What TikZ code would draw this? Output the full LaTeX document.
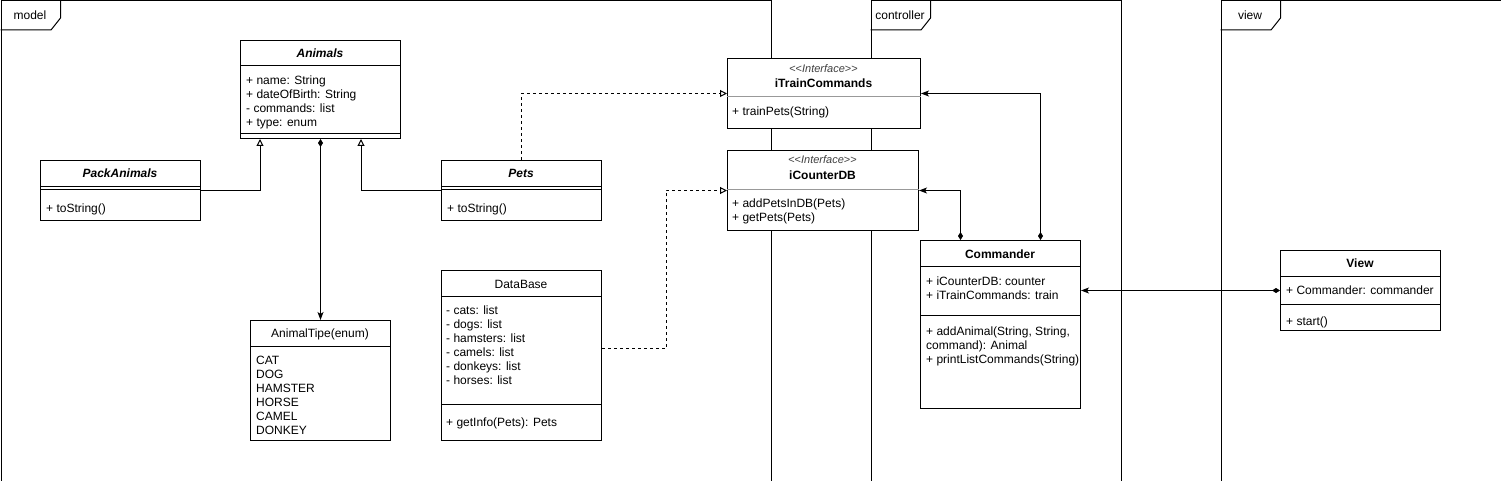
\documentclass[tikz,border=0pt]{standalone}
\usepackage{fontspec}
\setmainfont{Liberation Sans}
\usetikzlibrary{arrows.meta}

\newcommand{\uml}{\fontsize{12pt}{14pt}\selectfont}
\newcommand{\stereo}{<\kern0pt<\textit{Interface}>\kern0pt>}

\tikzset{
  frame/.style={draw, line width=1pt, inner sep=0pt, anchor=north west},
  cls/.style={draw, fill=white, line width=1pt, inner sep=0pt, anchor=north west},
  title/.style={inner sep=0pt, font=\uml\bfseries},
  abstitle/.style={inner sep=0pt, font=\uml\bfseries\itshape},
  plain/.style={inner sep=0pt, font=\uml},
  iftag/.style={inner sep=0pt, text=black!75, font=\fontsize{11pt}{13pt}\selectfont},
  members/.style={inner sep=0pt, anchor=west, align=left, font=\uml},
  sep/.style={line width=1pt},
  isep/.style={line width=1pt, draw=black!40},
  gen/.style={line width=1pt, -{Triangle[open,length=7pt,width=7pt]}},
  real/.style={gen, dash pattern=on 3pt off 3pt},
  comp/.style={line width=1pt, {Diamond[length=8pt,width=5pt]}-{Stealth[length=8pt,width=6pt,inset=2pt]}},
}

\begin{document}
\begin{tikzpicture}[x=1pt, y=-1pt, font=\uml]
  \useasboundingbox (0,0) rectangle (1501,481);

  % packages
  \node[frame, minimum width=770pt, minimum height=480pt] (model) at (0.5,0.5) {};
  \draw[line width=1pt] (0.5,30) -- (51,30) -- (60.5,18) -- (60.5,0.5);
  \node[plain] (model-l) at (30,15) {model};

  \node[frame, minimum width=250pt, minimum height=480pt] (controller) at (870.5,0.5) {};
  \draw[line width=1pt] (870.5,30) -- (921,30) -- (930.5,18) -- (930.5,0.5);
  \node[plain] (controller-l) at (900,15) {controller};

  \node[frame, minimum width=280pt, minimum height=480pt] (view) at (1220.5,0.5) {};
  \draw[line width=1pt] (1220.5,30) -- (1271,30) -- (1280.5,18) -- (1280.5,0.5);
  \node[plain] (view-l) at (1250,15) {view};

  % model
  \node[cls, minimum width=160pt, minimum height=98pt] (animals) at (240,40) {};
  \node[abstitle] (animals-t) at (320,53) {Animals};
  \draw[sep] (animals.west |- 0,66) -- (animals.east |- 0,66);
  \node[members] (animals-a) at (246,102) {+ name: String\\+ dateOfBirth: String\\- commands: list\\+ type: enum};
  \draw[sep] (animals.west |- 0,134) -- (animals.east |- 0,134);

  \node[cls, minimum width=160pt, minimum height=60pt] (pack) at (40,160) {};
  \node[abstitle] (pack-t) at (120,173.5) {PackAnimals};
  \draw[sep] (pack.west |- 0,186.5) -- (pack.east |- 0,186.5);
  \draw[sep] (pack.west |- 0,190) -- (pack.east |- 0,190);
  \node[members] (pack-o) at (46,209) {+ toString()};

  \node[cls, minimum width=160pt, minimum height=60pt] (pets) at (441,160) {};
  \node[abstitle] (pets-t) at (521,173.5) {Pets};
  \draw[sep] (pets.west |- 0,186.5) -- (pets.east |- 0,186.5);
  \draw[sep] (pets.west |- 0,190) -- (pets.east |- 0,190);
  \node[members] (pets-o) at (447,209) {+ toString()};

  \node[cls, minimum width=140pt, minimum height=120pt] (tipe) at (250,320) {};
  \node[plain] (tipe-t) at (320,334.5) {AnimalTipe(enum)};
  \draw[sep] (tipe.west |- 0,346) -- (tipe.east |- 0,346);
  \node[members] (tipe-a) at (256,395) {CAT\\DOG\\HAMSTER\\HORSE\\CAMEL\\DONKEY};

  \node[cls, minimum width=160pt, minimum height=170pt] (database) at (441,270) {};
  \node[plain] (database-t) at (521,284) {DataBase};
  \draw[sep] (database.west |- 0,296) -- (database.east |- 0,296);
  \node[members] (database-a) at (446,345.5) {- cats: list\\- dogs: list\\- hamsters: list\\- camels: list\\- donkeys: list\\- horses: list};
  \draw[sep] (database.west |- 0,404) -- (database.east |- 0,404);
  \node[members] (database-o) at (446,423) {+ getInfo(Pets): Pets};

  % controller
  \node[cls, minimum width=193pt, minimum height=70pt] (itrain) at (727,58) {};
  \node[iftag] (itrain-s) at (823.5,69) {\stereo};
  \node[title] (itrain-t) at (823.5,83) {iTrainCommands};
  \draw[isep] (itrain.west |- 0,97) -- (itrain.east |- 0,97);
  \node[members] (itrain-o) at (732,112) {+ trainPets(String)};

  \node[cls, minimum width=191pt, minimum height=80pt] (icounter) at (727,150) {};
  \node[iftag] (icounter-s) at (822.5,160) {\stereo};
  \node[title] (icounter-t) at (822.5,175) {iCounterDB};
  \draw[isep] (icounter.west |- 0,190) -- (icounter.east |- 0,190);
  \node[members] (icounter-o) at (732,211) {+ addPetsInDB(Pets)\\+ getPets(Pets)};

  \node[cls, minimum width=160pt, minimum height=168pt] (commander) at (920,240) {};
  \node[title] (commander-t) at (1000,254) {Commander};
  \draw[sep] (commander.west |- 0,266) -- (commander.east |- 0,266);
  \node[members] (commander-a) at (926,288) {+ iCounterDB: counter\\+ iTrainCommands: train};
  \draw[sep] (commander.west |- 0,315) -- (commander.east |- 0,315);
  \node[members] (commander-o) at (926,346) {+ addAnimal(String, String,\\command): Animal\\+ printListCommands(String)};

  % view
  \node[cls, minimum width=160pt, minimum height=80pt] (viewcls) at (1280,250) {};
  \node[title] (viewcls-t) at (1360,263) {View};
  \draw[sep] (viewcls.west |- 0,276) -- (viewcls.east |- 0,276);
  \node[members] (viewcls-a) at (1286,290) {+ Commander: commander};
  \draw[sep] (viewcls.west |- 0,304) -- (viewcls.east |- 0,304);
  \node[members] (viewcls-o) at (1286,322.5) {+ start()};

  % relations
  \draw[gen] (pack.east) -| ([xshift=20pt]animals.south west);
  \draw[gen] (pets.west) -| ([xshift=-40pt]animals.south east);
  \draw[comp] (animals.south) -- (tipe.north);
  \draw[real] (pets.north) |- (itrain.west);
  \draw[real] ([yshift=7pt]database.east) -- ++(64,0) |- (icounter.west);
  \draw[comp] ([xshift=-40pt]commander.north) |- (icounter.east);
  \draw[comp] ([xshift=40pt]commander.north) |- (itrain.east);
  \draw[comp] (viewcls.west) -- (viewcls.west -| commander.east);
\end{tikzpicture}
\end{document}
